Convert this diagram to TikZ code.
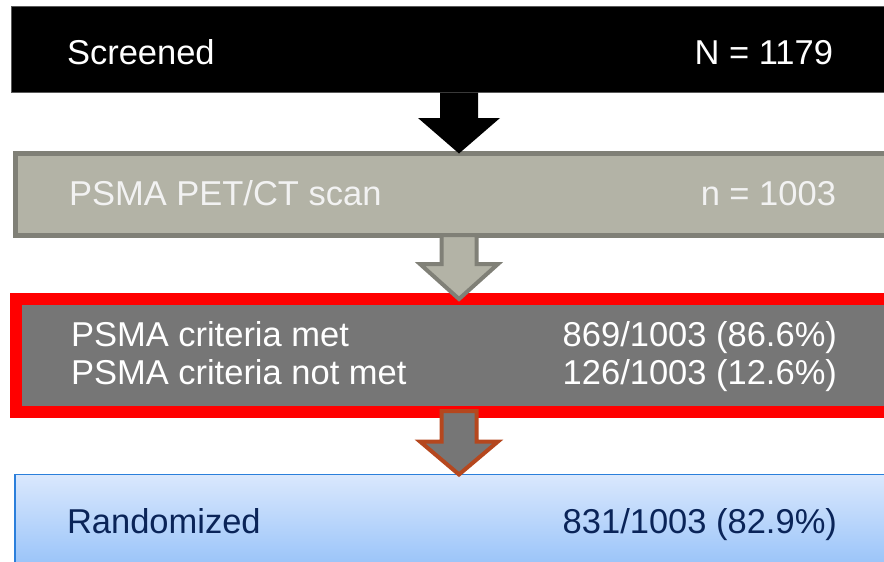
\documentclass[tikz,border=0pt]{standalone}
\usepackage{fontspec}
\setmainfont{Liberation Sans}
\usetikzlibrary{calc}
\definecolor{petfill}{HTML}{B3B3A6}
\definecolor{petline}{HTML}{808077}
\definecolor{critfill}{HTML}{767676}
\definecolor{critred}{HTML}{FF0000}
\definecolor{brownline}{HTML}{B5471E}
\definecolor{bluetop}{HTML}{DAE8FD}
\definecolor{bluebot}{HTML}{8CBCF8}
\definecolor{blueline}{HTML}{2B7FDB}
\definecolor{navytext}{HTML}{0A2458}
\tikzset{
  box/.style={rectangle, anchor=north, outer sep=0pt, inner sep=0pt},
  lbl/.style={inner sep=0pt, outer sep=0pt, font=\fontsize{34.5}{40}\selectfont},
  wlbl/.style={lbl, text=white},
  blbl/.style={lbl, text=navytext},
}
\begin{document}
\begin{tikzpicture}[x=1pt,y=-1pt]
\useasboundingbox (0,0) rectangle (884,562);
\clip (0,0) rectangle (884,562);
% boxes
\node[box, fill=black, draw=black!65, line width=1pt, minimum width=895pt, minimum height=86pt] (screen) at (459,6.5) {};
\node[box, fill=petfill, draw=petline, line width=5pt, minimum width=887pt, minimum height=82pt] (pet) at (459,153.5) {};
\node[box, fill=critfill, draw=critred, line width=12pt, minimum width=886pt, minimum height=113pt] (crit) at (459,299) {};
\node[box, top color=bluetop, bottom color=bluebot, draw=blueline, line width=1.5pt, minimum width=888pt, minimum height=110pt] (rand) at (459,474.5) {};
% block arrows
\fill[black] ($(screen.south)+(-19,0)$) -- ($(screen.south)+(19,0)$) -- ($(pet.north)+(19,-35.5)$) -- ($(pet.north)+(41,-35.5)$) -- (pet.north) -- ($(pet.north)+(-41,-35.5)$) -- ($(pet.north)+(-19,-35.5)$) -- cycle;
\draw[fill=petfill, draw=petline, line width=4pt, line join=miter] ($(pet.south)+(-17.5,-0.5)$) -- ($(pet.south)+(17.5,-0.5)$) -- ($(crit.north)+(17.5,-35)$) -- ($(crit.north)+(39,-35)$) -- (crit.north) -- ($(crit.north)+(-39,-35)$) -- ($(crit.north)+(-17.5,-35)$) -- cycle;
\draw[fill=critfill, draw=brownline, line width=4pt, line join=miter] ($(crit.south)+(-17.5,-1)$) -- ($(crit.south)+(17.5,-1)$) -- ($(rand.north)+(17.5,-33)$) -- ($(rand.north)+(39,-33)$) -- (rand.north) -- ($(rand.north)+(-39,-33)$) -- ($(rand.north)+(-17.5,-33)$) -- cycle;
% labels
\node[wlbl, anchor=base west] (t1) at (67,64) {Screened};
\node[wlbl, anchor=base east] (n1) at (833,64) {N = 1179};
\node[wlbl, anchor=base west, text=white!95!black] (t2) at (69,205) {PSMA PET/CT scan};
\node[wlbl, anchor=base east, text=white!95!black] (n2) at (836,205) {n = 1003};
\node[wlbl, anchor=base west] (t3) at (71,346) {PSMA criteria met};
\node[wlbl, anchor=base east] (n3) at (837,346) {869/1003 (86.6\%)};
\node[wlbl, anchor=base west] (t4) at (71,384) {PSMA criteria not met};
\node[wlbl, anchor=base east] (n4) at (837,384) {126/1003 (12.6\%)};
\node[blbl, anchor=base west] (t5) at (67,533) {Randomized};
\node[blbl, anchor=base east] (n5) at (837,533) {831/1003 (82.9\%)};
\end{tikzpicture}
\end{document}
